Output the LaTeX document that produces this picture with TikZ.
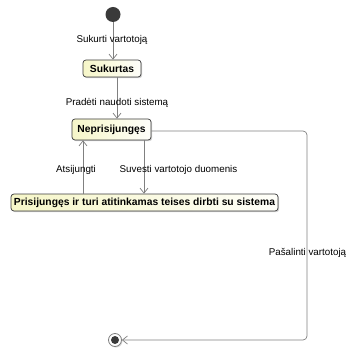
\documentclass[tikz,border=0pt]{standalone}
\usepackage{fontspec}
\setmainfont{Liberation Sans}
\usetikzlibrary{arrows.meta,shadows}
\definecolor{linegray}{HTML}{808080}
\definecolor{boxborder}{HTML}{3C3C3C}
\definecolor{boxyellow}{HTML}{F6F6C8}
\definecolor{dotdark}{HTML}{3A3A3A}
\tikzset{
  stbox/.style={draw=boxborder, line width=0.7pt, rounded corners=3pt,
    left color=boxyellow, right color=white!90!boxyellow, inner sep=0pt,
    font=\fontsize{10.3}{12}\selectfont\bfseries,
    drop shadow={shadow xshift=1.2pt, shadow yshift=-1.2pt, opacity=0.35}},
  tr/.style={draw=linegray, line width=0.7pt, -{Straight Barb[length=5pt,width=8pt]}},
  lbl/.style={font=\fontsize{9.8}{11}\selectfont, inner sep=0pt, text=black},
  initst/.style={circle, fill=dotdark, minimum size=15pt, inner sep=0pt},
  finst/.style={circle, draw=linegray, fill=white, line width=0.8pt, minimum size=13pt, inner sep=0pt,
    drop shadow={shadow xshift=1pt, shadow yshift=-1pt, opacity=0.3}},
}
\begin{document}
\begin{tikzpicture}[x=1pt,y=-1pt]
\useasboundingbox[fill=white] (0,0) rectangle (347,352);
\node[initst] (i) at (113,14.5) {};
\node[stbox, minimum width=58pt, minimum height=17pt] (s) at (112,68.5) {Sukurtas};
\node[stbox, minimum width=79pt, minimum height=21pt] (n) at (111.5,129.5) {Neprisijungęs};
\node[stbox, minimum width=267pt, minimum height=17pt] (p) at (144.5,202.5) {Prisijungęs ir turi atitinkamas teises dirbti su sistema};
\node[finst] (f) at (115,340) {};
\fill[dotdark] (f.center) circle (4pt);
\coordinate (ax) at (83,0);
\coordinate (sx) at (144,0);
\coordinate (c2) at (307,340);
% connectors
\draw[tr] (i.south) -- (i.south |- s.north);
\draw[tr] ([xshift=5pt]s.south) -- ([xshift=5pt]s.south |- n.north);
\draw[tr] (p.north -| ax) -- (n.south -| ax);
\draw[tr] (n.south -| sx) -- (p.north -| sx);
\draw[tr, rounded corners=4pt] ([yshift=-1.5pt]n.east) -| (c2) -- (f.east);
% labels
\node[lbl] (l1) at (112,39.5) {Sukurti vartotoją};
\node[lbl] (l2) at (117,102.5) {Pradėti naudoti sistemą};
\node[lbl] (l3) at (76,170) {Atsijungti};
\node[lbl] (l4) at (178.5,170) {Suvesti vartotojo duomenis};
\node[lbl] (l5) at (307.5,253) {Pašalinti vartotoją};
\end{tikzpicture}
\end{document}
